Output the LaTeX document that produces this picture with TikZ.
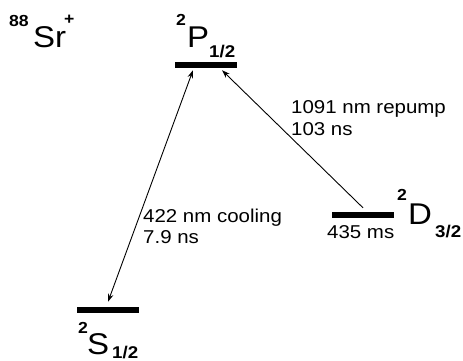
\documentclass[tikz,border=0pt]{standalone}
\usepackage{fontspec}
\setmainfont{Liberation Sans}
\usetikzlibrary{arrows.meta}
\newcommand\widetxt[1]{\scalebox{1.1}[1]{#1}}
\begin{document}
\begin{tikzpicture}[x=1pt,y=-1pt,
  level/.style={fill=black,inner sep=0pt,minimum width=62pt,minimum height=6pt},
  lbl/.style={anchor=base west,inner sep=0pt,font=\fontsize{18.6}{22}\selectfont},
  big/.style={anchor=base west,inner sep=0pt,font=\fontsize{30}{30}\selectfont},
  sm/.style={anchor=base west,inner sep=0pt,font=\bfseries\fontsize{16}{16}\selectfont},
  sub/.style={anchor=base west,inner sep=0pt,font=\bfseries\fontsize{17}{17}\selectfont},
  trans/.style={line width=0.9pt}]
\useasboundingbox (0,0) rectangle (463,360);

% levels
\node[level] (P) at (206,64.5) {};
\node[level] (D) at (362.5,215) {};
\node[level] (S) at (108,310) {};

% 88Sr+
\node[sm] (n88) at (9,26) {\widetxt{88}};
\node[big] (Sr) at (33,47) {\widetxt{Sr}};
\node[sm] (plus) at (64,24) {\widetxt{+}};

% 2P1/2
\node[sm] (P2) at (176,25) {\widetxt{2}};
\node[big] (PP) at (187,47) {\widetxt{P}};
\node[sub] (P12) at (209,57) {\widetxt{1/2}};

% 2D3/2
\node[sm] (D2) at (397,200) {\widetxt{2}};
\node[big] (DD) at (408,224) {\widetxt{D}};
\node[sub] (D32) at (435,237) {\widetxt{3/2}};

% 2S1/2
\node[sm] (S2) at (78,333) {\widetxt{2}};
\node[big] (SS) at (87,354) {\widetxt{S}};
\node[sub] (S12) at (112,358) {\widetxt{1/2}};

% transition labels
\node[lbl] (cool1) at (143,222) {\widetxt{422 nm cooling}};
\node[lbl] (cool2) at (143,243) {\widetxt{7.9 ns}};
\node[lbl] (rep1) at (291,113) {\widetxt{1091 nm repump}};
\node[lbl] (rep2) at (291,135) {\widetxt{103 ns}};
\node[lbl] (life) at (327,238) {\widetxt{435 ms}};

% transitions
\draw[trans,{Stealth[length=8pt,width=5.5pt]}-{Stealth[length=8pt,width=5.5pt]}]
  ([shift={(0,-5)}]S.north) -- ([shift={(-13,2.5)}]P.south);
\draw[trans,-{Stealth[length=8pt,width=5.5pt]}]
  ([shift={(0.5,-4)}]D.north) -- ([shift={(16,2.5)}]P.south);
\end{tikzpicture}
\end{document}
